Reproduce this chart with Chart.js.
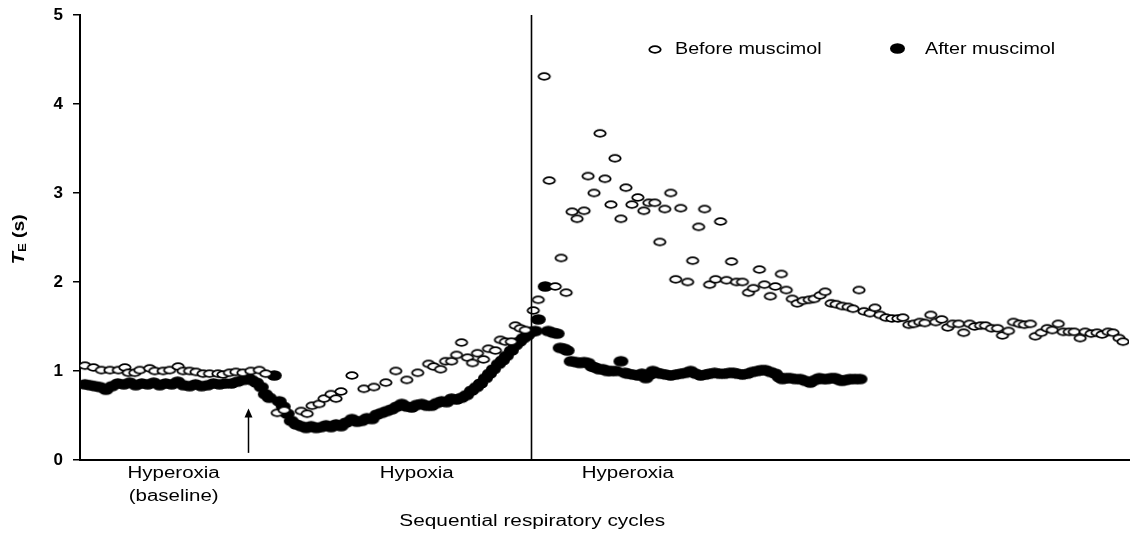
<!DOCTYPE html>
<html><head><meta charset="utf-8">
<script src="https://cdn.jsdelivr.net/npm/chart.js@4"></script>
<style>html,body{margin:0;padding:0;background:#fff}#wrap{width:1137px;height:538px;position:relative}</style>
</head><body><div id="wrap"><canvas id="c"></canvas></div>
<script>
// ---- data (x = sequential respiratory cycle, y = TE in seconds) ----
const beforeX = [1.0,2.7,4.3,6.0,7.7,9.0,9.7,11.0,12.0,14.0,15.0,16.7,18.0,19.7,20.7,22.0,23.3,24.7,26.0,27.7,28.7,30.0,31.3,32.7,34.3,36.0,37.3,
  39.6,41.0,44.4,45.6,46.6,48.0,49.0,50.4,51.4,52.4,54.6,57.0,59.0,61.4,63.4,65.6,67.8,70.0,71.0,72.4,73.4,74.6,75.6,76.6,77.8,78.8,79.8,81.0,82.0,83.4,84.4,85.4,86.6,87.4,88.4,89.4,
  91.0,92.0,93.2,94.2,95.4,96.6,97.6,98.8,99.8,101.2,102.0,103.2,104.4,105.4,106.6,107.4,108.6,109.6,110.8,112.0,113.2,114.2,115.4,116.4,117.4,118.6,119.6,120.6,122.0,123.0,124.2,125.4,126.4,127.6,128.6,129.8,130.8,131.8,
  133.0,134.2,135.2,136.4,137.4,138.6,139.6,140.8,141.8,143.0,144.0,145.2,146.4,147.4,148.6,149.6,150.8,151.8,153.0,154.2,155.2,156.4,157.4,158.6,159.6,160.6,161.8,163.0,164.2,165.2,166.4,167.4,168.6,169.6,170.8,171.8,
  173.0,174.2,175.2,176.4,177.4,178.6,179.6,180.8,181.8,183.0,184.2,185.2,186.4,187.4,188.6,189.6,190.8,191.8,193.0,194.2,195.2,196.4,197.4,198.6,199.6,200.8,201.8,203.0,204.2,205.2,206.4,207.4,208.6,209.4];
const beforeY = [1.06,1.04,1.01,1.01,1.01,1.04,0.98,0.98,1.01,1.03,1.00,1.00,1.01,1.05,1.00,1.00,0.99,0.97,0.97,0.97,0.96,0.98,0.99,0.98,1.00,1.01,0.97,
  0.53,0.56,0.55,0.52,0.61,0.63,0.69,0.74,0.69,0.77,0.95,0.80,0.82,0.87,1.00,0.90,0.98,1.08,1.05,1.02,1.11,1.11,1.18,1.32,1.15,1.09,1.20,1.13,1.25,1.23,1.35,1.33,1.33,1.51,1.48,1.46,
  1.68,1.80,4.31,3.14,1.95,2.27,1.88,2.79,2.71,2.80,3.19,3.00,3.67,3.16,2.87,3.39,2.71,3.06,2.87,2.95,2.80,2.89,2.89,2.45,2.82,3.00,2.03,2.83,2.00,2.24,2.62,2.82,1.97,2.03,2.68,2.02,2.23,2.00,
  2.00,1.88,1.93,2.14,1.97,1.84,1.95,2.09,1.91,1.81,1.76,1.79,1.80,1.81,1.85,1.89,1.76,1.75,1.73,1.72,1.70,1.91,1.67,1.65,1.71,1.63,1.60,1.59,1.59,1.60,1.52,1.53,1.55,1.54,1.63,1.55,
  1.58,1.49,1.53,1.53,1.43,1.53,1.50,1.51,1.51,1.48,1.48,1.40,1.45,1.55,1.53,1.52,1.53,1.39,1.43,1.48,1.46,1.53,1.44,1.44,1.44,1.37,1.44,1.42,1.43,1.41,1.44,1.43,1.37,1.33];

const afterX = [1.0,2.0,3.0,4.0,5.2,6.4,7.6,8.8,10.0,11.2,12.4,13.6,14.8,16.0,17.2,18.4,19.6,20.8,22.0,23.2,24.4,25.6,26.8,28.0,29.2,30.4,31.6,32.8,33.6,34.4,35.4,36.4,37.2,38.0,39.0,
  40.0,40.8,41.6,42.4,43.4,44.4,45.4,46.4,47.4,48.4,49.4,50.4,51.4,52.4,53.4,54.6,55.6,56.6,57.6,58.6,59.6,60.6,61.6,62.6,63.6,64.6,65.6,66.6,67.6,68.6,69.6,70.6,71.6,72.6,73.6,74.6,75.6,76.6,77.6,78.6,79.6,
  80.4,81.4,82.2,83.0,84.0,84.8,85.6,86.6,87.4,88.2,89.0,89.8,90.6,91.4,92.0,93.4,94.0,95.0,95.8,96.4,97.2,97.8,98.6,99.6,100.4,101.2,102.0,102.8,103.4,104.2,105.0,105.8,106.6,107.6,108.6,109.4,
  110.0,111.0,112.0,112.8,113.6,114.4,115.0,115.8,116.6,117.6,118.6,119.6,120.6,121.6,122.6,123.6,124.6,125.6,126.4,127.4,128.4,129.4,130.4,131.2,132.0,133.0,134.0,135.0,136.0,136.8,137.6,138.6,139.6,
  140.4,141.0,141.8,142.6,143.6,144.6,145.6,146.6,147.6,148.4,149.2,150.0,150.8,151.6,152.4,153.0,153.8,154.6,155.6,156.6];
const afterY = [0.85,0.84,0.83,0.82,0.79,0.83,0.86,0.85,0.87,0.84,0.86,0.85,0.87,0.84,0.86,0.85,0.88,0.84,0.83,0.85,0.83,0.84,0.86,0.85,0.86,0.86,0.88,0.90,0.93,0.90,0.87,0.82,0.74,0.70,0.95,
  0.66,0.60,0.52,0.44,0.40,0.38,0.36,0.38,0.36,0.37,0.39,0.37,0.40,0.38,0.42,0.46,0.43,0.44,0.47,0.46,0.51,0.53,0.55,0.57,0.60,0.63,0.60,0.59,0.62,0.63,0.61,0.61,0.64,0.66,0.65,0.69,0.68,0.70,0.73,0.78,0.82,
  0.86,0.92,0.97,1.02,1.08,1.12,1.17,1.23,1.29,1.33,1.37,1.40,1.44,1.45,1.58,1.95,1.45,1.43,1.42,1.26,1.25,1.23,1.11,1.10,1.09,1.10,1.09,1.05,1.04,1.02,1.02,1.00,1.00,1.00,1.11,0.98,
  0.97,0.96,0.95,0.97,0.92,0.96,1.00,0.98,0.97,0.96,0.95,0.96,0.97,0.98,1.00,0.97,0.95,0.96,0.97,0.98,0.97,0.97,0.98,0.98,0.97,0.96,0.97,0.99,1.00,1.01,1.01,0.99,0.97,
  0.93,0.91,0.92,0.92,0.91,0.91,0.89,0.87,0.90,0.92,0.91,0.91,0.92,0.92,0.90,0.89,0.90,0.91,0.91,0.91];

const seriesNames = ["Before muscimol", "After muscimol"];
const yTicks = [0, 1, 2, 3, 4, 5];
const phaseLabels = [["Hyperoxia", "(baseline)"], ["Hypoxia"], ["Hyperoxia"]];
const phaseCenters = [18.8, 67.6, 110];
const switchCycle = 90.6;       // hypoxia -> hyperoxia
const injectionCycle = 33.7;    // arrow (muscimol)
const arrowRange = [0.08, 0.58];
const xTitle = "Sequential respiratory cycles";
const yTitleParts = ["T", "E", " (s)"];

// ---- marker images ----
function ellipseMarker(w, h, filled) {
  const c = document.createElement('canvas');
  c.width = Math.ceil(w + 4); c.height = Math.ceil(h + 4);
  const g = c.getContext('2d');
  g.beginPath();
  g.ellipse(c.width / 2, c.height / 2, w / 2, h / 2, 0, 0, Math.PI * 2);
  if (filled) { g.fillStyle = '#000'; g.fill(); }
  else { g.fillStyle = '#fff'; g.fill(); g.lineWidth = 1.8; g.strokeStyle = '#000'; g.stroke(); }
  return c;
}
const openMarker = ellipseMarker(11.4, 6.6, false);
const fullMarker = ellipseMarker(15, 10.6, true);

const FONT = '"Liberation Sans", Arial, Helvetica, sans-serif';

function stretchText(ctx, str, x, y, sx, align, font) {
  ctx.save();
  ctx.font = font;
  ctx.translate(x, y);
  ctx.scale(sx, 1);
  ctx.textAlign = align;
  ctx.textBaseline = 'middle';
  ctx.fillStyle = '#000';
  ctx.fillText(str, 0, 0);
  ctx.restore();
}

const decorations = {
  id: 'decorations',
  afterDatasetsDraw(chart) {
    const ctx = chart.ctx, xs = chart.scales.x, ys = chart.scales.y, a = chart.chartArea;
    ctx.save();
    ctx.strokeStyle = '#000'; ctx.fillStyle = '#000';
    // phase switch line
    const sx = Math.round(xs.getPixelForValue(switchCycle)) + 0.5;
    ctx.lineWidth = 1.6;
    ctx.beginPath(); ctx.moveTo(sx, a.top); ctx.lineTo(sx, a.bottom); ctx.stroke();
    // arrow
    const ax = Math.round(xs.getPixelForValue(injectionCycle)) + 0.5;
    const ay0 = ys.getPixelForValue(arrowRange[0]), ay1 = ys.getPixelForValue(arrowRange[1]);
    ctx.lineWidth = 1.5;
    ctx.beginPath(); ctx.moveTo(ax, ay0); ctx.lineTo(ax, ay1 + 7); ctx.stroke();
    ctx.beginPath(); ctx.moveTo(ax, ay1); ctx.lineTo(ax - 4, ay1 + 9); ctx.lineTo(ax + 4, ay1 + 9); ctx.closePath(); ctx.fill();
    ctx.restore();
  },
  afterDraw(chart) {
    const ctx = chart.ctx, xs = chart.scales.x, a = chart.chartArea;
    const lab = '16px ' + FONT;
    // phase labels
    phaseLabels.forEach((lines, i) => {
      const cx = xs.getPixelForValue(phaseCenters[i]);
      lines.forEach((t, j) => stretchText(ctx, t, cx, a.bottom + 14 + j * 23, 1.28, 'center', lab));
    });
    // x title centred under the switch line
    stretchText(ctx, xTitle, xs.getPixelForValue(switchCycle) + 1, a.bottom + 62, 1.3, 'center', lab);
    // y title (rotated)
    ctx.save();
    ctx.translate(a.left - 56, (a.top + a.bottom) / 2 + 2);
    ctx.rotate(-Math.PI / 2);
    ctx.scale(1.2, 1);
    ctx.fillStyle = '#000';
    ctx.textBaseline = 'alphabetic';
    const f1 = 'italic bold 17px ' + FONT, f2 = 'bold 11px ' + FONT, f3 = 'bold 16px ' + FONT;
    ctx.font = f1; const w1 = ctx.measureText(yTitleParts[0]).width;
    ctx.font = f2; const w2 = ctx.measureText(yTitleParts[1]).width;
    ctx.font = f3; const w3 = ctx.measureText(yTitleParts[2]).width;
    let x0 = -(w1 + w2 + w3) / 2;
    ctx.font = f1; ctx.fillText(yTitleParts[0], x0, 0); x0 += w1;
    ctx.font = f2; ctx.fillText(yTitleParts[1], x0, 2); x0 += w2;
    ctx.font = f3; ctx.fillText(yTitleParts[2], x0, 0);
    ctx.restore();
    // legend
    const items = [
      { img: openMarker, mx: 655, my: 49, tx: 675 },
      { img: fullMarker, mx: 897, my: 48, tx: 925 }
    ];
    items.forEach((it, i) => {
      ctx.drawImage(it.img, Math.round(it.mx - it.img.width / 2), Math.round(it.my - it.img.height / 2));
      stretchText(ctx, chart.data.datasets[i].label, it.tx, 50, 1.23, 'left', lab);
    });
  }
};

new Chart(document.getElementById('c'), {
  type: 'scatter',
  data: {
    datasets: [
      { label: seriesNames[0], data: beforeX.map((x, i) => ({ x, y: beforeY[i] })), pointStyle: openMarker, pointRadius: 6, pointHoverRadius: 6, showLine: false },
      { label: seriesNames[1], data: afterX.map((x, i) => ({ x, y: afterY[i] })), pointStyle: fullMarker, pointRadius: 7, pointHoverRadius: 7, showLine: false }
    ]
  },
  options: {
    responsive: true, maintainAspectRatio: false, animation: false, events: [],
    layout: { padding: { top: 15, right: 4, left: 0, bottom: 0 } },
    plugins: { legend: { display: false }, tooltip: { enabled: false } },
    scales: {
      x: {
        type: 'linear', min: 0, max: 210.6,
        grid: { display: false, drawTicks: false },
        border: { display: true, color: '#000', width: 2 },
        ticks: { display: false },
        afterFit(s) { s.height = 78; }
      },
      y: {
        min: 0, max: 5,
        afterBuildTicks(s) { s.ticks = yTicks.map(v => ({ value: v })); },
        ticks: { color: '#000', padding: 10, font: { family: FONT, size: 17, weight: 'bold' } },
        grid: { drawOnChartArea: false, drawTicks: true, tickLength: 7, color: '#000', lineWidth: 1.5 },
        border: { display: true, color: '#000', width: 2 },
        afterFit(s) { s.width = 80; s.paddingTop = 0; s.paddingBottom = 0; }
      }
    }
  },
  plugins: [decorations]
});
</script></body></html>
